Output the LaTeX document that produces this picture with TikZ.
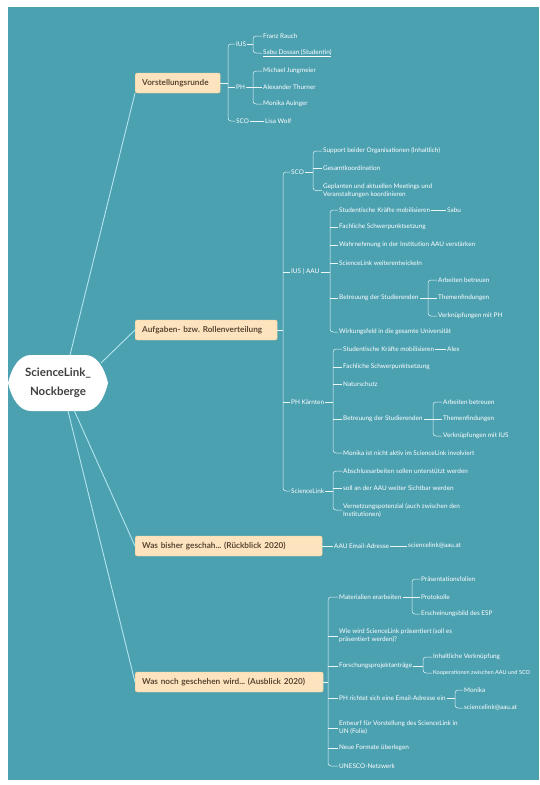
\documentclass[tikz,border=0pt]{standalone}
\usepackage{fontspec}
\setmainfont{Lato}
\frenchspacing
\definecolor{bg}{HTML}{4CA1B1}
\definecolor{boxfill}{HTML}{FDE4BF}
\definecolor{boxdraw}{HTML}{F3CC95}
\definecolor{boxtext}{HTML}{5A4634}
\definecolor{mainc}{HTML}{B4E4EE}
\definecolor{subline}{HTML}{EAF6F8}
\definecolor{centertext}{HTML}{404040}
\begin{document}
\begin{tikzpicture}[x=1pt,y=-1pt,
  txt/.style={text=white,font=\fontsize{6.4}{8}\selectfont,inner sep=1pt,anchor=west,align=left},
  box/.style={fill=boxfill,draw=boxdraw,line width=0.4pt,rounded corners=2pt,text=boxtext,
    font=\bfseries\fontsize{8.2}{9}\selectfont,minimum height=20pt,inner xsep=7pt,inner ysep=2pt,anchor=west,align=left},
  br/.style={draw=subline,line width=0.5pt,rounded corners=3pt},
  mainline/.style={draw=mainc,line width=0.9pt}]
\useasboundingbox (0,0) rectangle (539,785);
\fill[white] (0,0) rectangle (539,785);
\fill[bg] (8,7) rectangle (539,780);

% ---------- central node ----------
\fill[white] (8,383) .. controls (12,366) and (20,355) .. (31,355) -- (85,355)
  .. controls (96,355) and (104,366) .. (108,383)
  .. controls (104,400) and (96,411) .. (85,411) -- (31,411)
  .. controls (20,411) and (12,400) .. (8,383) -- cycle;
\node[text=centertext,font=\bfseries\fontsize{11.5}{19}\selectfont,align=center] (c) at (58,383) {ScienceLink\_\\Nockberge};
\coordinate (c1) at (70,355);
\coordinate (c2) at (101,363);
\coordinate (c3) at (74,410);
\coordinate (c4) at (68,411);

% ---------- main boxes ----------
\node[box,text width=71pt] (v) at (135,83) {Vorstellungsrunde};
\node[box,text width=128pt] (a) at (135,330) {Aufgaben- bzw. Rollenverteilung};
\node[box,text width=173pt] (w) at (135,546) {Was bisher geschah... (Rückblick 2020)};
\node[box,text width=174pt] (n) at (135,682) {Was noch geschehen wird... (Ausblick 2020)};

\draw[mainline] (c1) -- (v.south west);
\draw[mainline] (c2) -- (a.west);
\draw[mainline] (c3) -- (w.west);
\draw[mainline] (c4) -- (n.west);

% ---------- branch 1: Vorstellungsrunde ----------
\coordinate (bv) at (228,83);
\node[txt] (v1) at (235,44) {IUS};
\node[txt] (v2) at (235,87) {PH};
\node[txt] (v3) at (235,121) {SCO};
\draw[br] (v.east) -- (bv);
\draw[br] (v1.west) -| (bv) |- (v3.west);
\draw[br] (bv |- v2.west) -- (v2.west);

\coordinate (bv1) at (253,44);
\node[txt] (v11) at (262,36) {Franz Rauch};
\node[txt] (v12) at (262,53) {\underline{Sabu Dossan (Studentin)}};
\draw[br] (v1.east) -- (bv1);
\draw[br] (v11.west) -| (bv1) |- (v12.west);

\coordinate (bv2) at (253,87);
\node[txt] (v21) at (262,71) {Michael Jungmeier};
\node[txt] (v22) at (262,87) {Alexander Thurner};
\node[txt] (v23) at (262,104) {Monika Auinger};
\draw[br] (v2.east) -- (bv2);
\draw[br] (v21.west) -| (bv2) |- (v23.west);
\draw[br] (bv2 |- v22.west) -- (v22.west);

\node[txt] (v31) at (264,121) {Lisa Wolf};
\draw[br] (v3.east) -- (v31.west);

% ---------- branch 2: Aufgaben ----------
\coordinate (ba) at (283,330);
\node[txt] (a1) at (290,172) {SCO};
\node[txt] (a2) at (290,272) {IUS | AAU};
\node[txt] (a3) at (290,402) {PH Kärnten};
\node[txt] (a4) at (290,491) {ScienceLink};
\draw[br] (a.east) -- (ba);
\draw[br] (a1.west) -| (ba) |- (a4.west);
\draw[br] (ba |- a2.west) -- (a2.west);
\draw[br] (ba |- a3.west) -- (a3.west);

% SCO
\coordinate (ba1) at (313,172);
\node[txt] (a11) at (322,151) {Support beider Organisationen (Inhaltlich)};
\node[txt] (a12) at (322,168) {Gesamtkoordination};
\node[txt] (a13) at (322,190.5) {Geplanten und aktuellen Meetings und\\Veranstaltungen koordinieren};
\draw[br] (a1.east) -- (ba1);
\draw[br] (a11.west) -| (ba1) |- (a13.west);
\draw[br] (ba1 |- a12.west) -- (a12.west);

% IUS | AAU
\coordinate (ba2) at (330,272);
\node[txt] (a21) at (338,210) {Studentische Kräfte mobilisieren};
\node[txt] (a21s) at (446,210) {Sabu};
\node[txt] (a22) at (338,227) {Fachliche Schwerpunktsetzung};
\node[txt] (a23) at (338,245) {Wahrnehmung in der Institution AAU verstärken};
\node[txt] (a24) at (338,263) {ScienceLink weiterentwickeln};
\node[txt] (a25) at (338,298) {Betreuung der Studierenden};
\node[txt] (a26) at (338,332) {Wirkungsfeld in die gesamte Universität};
\draw[br] (a2.east) -- (ba2);
\draw[br] (a21.west) -| (ba2) |- (a26.west);
\draw[br] (ba2 |- a22.west) -- (a22.west);
\draw[br] (ba2 |- a23.west) -- (a23.west);
\draw[br] (ba2 |- a24.west) -- (a24.west);
\draw[br] (ba2 |- a25.west) -- (a25.west);
\draw[br] (a21.east) -- (a21s.west);

\coordinate (ba25) at (428,298);
\node[txt] (a251) at (437,280) {Arbeiten betreuen};
\node[txt] (a252) at (437,298) {Themenfindungen};
\node[txt] (a253) at (437,316) {Verknüpfungen mit PH};
\draw[br] (a25.east) -- (ba25);
\draw[br] (a251.west) -| (ba25) |- (a253.west);
\draw[br] (ba25 |- a252.west) -- (a252.west);

% PH Kärnten
\coordinate (ba3) at (333,402);
\node[txt] (a31) at (342,349) {Studentische Kräfte mobilisieren};
\node[txt] (a31s) at (446,349) {Alex};
\node[txt] (a32) at (342,367) {Fachliche Schwerpunktsetzung};
\node[txt] (a33) at (342,384) {Naturschutz};
\node[txt] (a34) at (342,419) {Betreuung der Studierenden};
\node[txt] (a35) at (342,453) {Monika ist nicht aktiv im ScienceLink involviert};
\draw[br] (a3.east) -- (ba3);
\draw[br] (a31.west) -| (ba3) |- (a35.west);
\draw[br] (ba3 |- a32.west) -- (a32.west);
\draw[br] (ba3 |- a33.west) -- (a33.west);
\draw[br] (ba3 |- a34.west) -- (a34.west);
\draw[br] (a31.east) -- (a31s.west);

\coordinate (ba34) at (433,419);
\node[txt] (a341) at (442,402) {Arbeiten betreuen};
\node[txt] (a342) at (442,419) {Themenfindungen};
\node[txt] (a343) at (442,436) {Verknüpfungen mit IUS};
\draw[br] (a34.east) -- (ba34);
\draw[br] (a341.west) -| (ba34) |- (a343.west);
\draw[br] (ba34 |- a342.west) -- (a342.west);

% ScienceLink
\coordinate (ba4) at (333,491);
\node[txt] (a41) at (342,471) {Abschlussarbeiten sollen unterstützt werden};
\node[txt] (a42) at (342,488) {soll an der AAU weiter Sichtbar werden};
\node[txt] (a43) at (342,510) {Vernetzungspotenzial (auch zwischen den\\Institutionen)};
\draw[br] (a4.east) -- (ba4);
\draw[br] (a41.west) -| (ba4) |- (a43.west);
\draw[br] (ba4 |- a42.west) -- (a42.west);

% ---------- branch 3: Was bisher ----------
\node[txt] (w1) at (333,546) {AAU Email-Adresse};
\node[txt] (w2) at (407,546) {sciencelink@aau.at};
\draw[br] (w.east) -- (w1.west);
\draw[br] (w1.east) -- (w2.west);

% ---------- branch 4: Was noch ----------
\coordinate (bn) at (328,682);
\node[txt] (n1) at (338,597) {Materialien erarbeiten};
\node[txt] (n2) at (338,636) {Wie wird ScienceLink präsentiert (soll es\\präsentiert werden)?};
\node[txt] (n3) at (338,666) {Forschungsprojektanträge};
\node[txt] (n4) at (338,698) {PH richtet sich eine Email-Adresse ein};
\node[txt] (n5) at (338,728) {Entwurf für Vorstellung des ScienceLink in\\UN (Folie)};
\node[txt] (n6) at (338,748) {Neue Formate überlegen};
\node[txt] (n7) at (338,766) {UNESCO-Netzwerk};
\draw[br] (n.east) -- (bn);
\draw[br] (n1.west) -| (bn) |- (n7.west);
\draw[br] (bn |- n2.west) -- (n2.west);
\draw[br] (bn |- n3.west) -- (n3.west);
\draw[br] (bn |- n4.west) -- (n4.west);
\draw[br] (bn |- n5.west) -- (n5.west);
\draw[br] (bn |- n6.west) -- (n6.west);

\coordinate (bn1) at (412,597);
\node[txt] (n11) at (420,579) {Präsentationsfolien};
\node[txt] (n12) at (420,597) {Protokolle};
\node[txt] (n13) at (420,614) {Erscheinungsbild des ESP};
\draw[br] (n1.east) -- (bn1);
\draw[br] (n11.west) -| (bn1) |- (n13.west);
\draw[br] (bn1 |- n12.west) -- (n12.west);

\coordinate (bn3) at (423,666);
\node[txt] (n31) at (432,657) {Inhaltliche Verknüpfung};
\node[txt,font=\fontsize{5.6}{8}\selectfont] (n32) at (432,673) {Kooperationen zwischen AAU und SCO};
\draw[br] (n3.east) -- (bn3);
\draw[br] (n31.west) -| (bn3) |- (n32.west);

\coordinate (bn4) at (455,698);
\node[txt] (n41) at (463,690) {Monika};
\node[txt] (n42) at (463,708) {sciencelink@aau.at};
\draw[br] (n4.east) -- (bn4);
\draw[br] (n41.west) -| (bn4) |- (n42.west);
\end{tikzpicture}
\end{document}
